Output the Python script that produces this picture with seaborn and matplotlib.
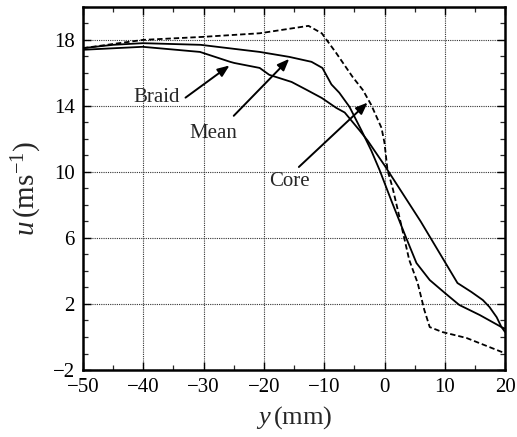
import numpy as np
import pandas as pd
import matplotlib
matplotlib.use("Agg")
import matplotlib.pyplot as plt
from matplotlib.ticker import MultipleLocator
import seaborn as sns

# ---- data ----
mean_y = [-50, -45, -40.1, -30.5, -20.7, -15.8, -12.1, -10.3, -8.8, -7.5, -5.8, -3.8, -2.2, -0.8, 1.2,
          3.6, 5.3, 7.5, 10.0, 12.4, 15.8, 19.4, 20.0]
mean_u = [17.5, 17.7, 17.8, 17.7, 17.27, 16.97, 16.67, 16.3, 15.3, 14.8, 13.94, 12.5, 11.3, 10.1, 8.2,
          6.0, 4.48, 3.45, 2.67, 1.94, 1.33, 0.6, 0.5]

braid_y = [-50, -40.1, -30.6, -25.6, -24.9, -20.7, -19.1, -15.4, -12.9, -10.4, -8.0, -6.6, -4.1, -2.8,
           0.0, 3.0, 6.0, 9.6, 12.1, 14.4, 16.3, 17.4, 18.6, 19.4, 20.0]
braid_u = [17.4, 17.58, 17.27, 16.67, 16.6, 16.3, 15.88, 15.45, 14.97, 14.48, 13.88, 13.6, 12.5, 11.9,
           10.4, 8.7, 7.0, 4.8, 3.27, 2.73, 2.24, 1.82, 1.2, 0.6, 0.3]

core_y = [-50, -40, -30.2, -20.7, -12.6, -10.4, -8.0, -5.3, -3.6, -2.2, -0.5, 0.0, 0.5, 1.3, 2.2,
          4.1, 5.5, 6.6, 7.5, 9.6, 13.6, 19.4, 20.0]
core_u = [17.5, 18.0, 18.18, 18.4, 18.85, 18.4, 17.2, 15.76, 14.97, 14.06, 12.67, 11.76, 10.1, 9.1, 7.7,
          4.67, 3.27, 1.64, 0.6, 0.3, -0.06, -0.9, -0.95]

xticks = [-50, -40, -30, -20, -10, 0, 10, 20]
yticks = [-2, 2, 6, 10, 14, 18]

labels = ["Braid", "Mean", "Core"]
label_pos = [(-37.8, 14.5), (-28.4, 12.3), (-15.8, 9.4)]
arrow_tail = [(-33.0, 14.5), (-25.0, 13.4), (-14.2, 10.3)]
arrow_tip = [(-25.7, 16.45), (-15.8, 16.85), (-2.8, 14.2)]

# ---- build frame ----
df = pd.concat([
    pd.DataFrame({"y": mean_y, "u": mean_u, "profile": "Mean"}),
    pd.DataFrame({"y": braid_y, "u": braid_u, "profile": "Braid"}),
    pd.DataFrame({"y": core_y, "u": core_u, "profile": "Core"}),
])

sns.set_style("ticks")
plt.rcParams["font.family"] = ["Liberation Serif", "DejaVu Serif"]
plt.rcParams["mathtext.fontset"] = "custom"
plt.rcParams["mathtext.it"] = "Liberation Serif:italic"
plt.rcParams["mathtext.rm"] = "Liberation Serif"

fig = plt.figure(figsize=(5.17, 4.37), dpi=100)
ax = fig.add_axes([0.1605, 0.1533, 0.8165, 0.831])

sns.lineplot(data=df, x="y", y="u", hue="profile", style="profile",
             palette={"Mean": "black", "Braid": "black", "Core": "black"},
             dashes={"Mean": "", "Braid": "", "Core": (3, 1.6)},
             linewidth=1.3, sort=False, estimator=None, legend=False, ax=ax)

ax.set_xlim(-50, 20)
ax.set_ylim(-2, 20)
ax.set_xticks(xticks)
ax.set_yticks(yticks)
ax.set_xticklabels([f"{t}".replace("-", "\u2212") for t in xticks])
ax.set_yticklabels([f"{t}".replace("-", "\u2212") for t in yticks])
ax.xaxis.set_minor_locator(MultipleLocator(5))
ax.yaxis.set_minor_locator(MultipleLocator(1))
ax.tick_params(which="major", direction="in", length=6, width=1.0, labelsize=15,
               top=True, right=True, pad=6, colors="black")
ax.tick_params(which="minor", direction="in", length=3.5, width=0.9, top=True, right=True)
ax.grid(True, which="major", linestyle=(0, (1, 1)), linewidth=0.8, color="#333333")
for s in ax.spines.values():
    s.set_linewidth(1.8)
    s.set_color("black")

ax.set_xlabel(r"$y\,$(mm)", fontsize=19, labelpad=5)
ax.set_ylabel(r"$u\,$(ms$^{-1}$)", fontsize=21, labelpad=6)

for lab, pos, tail, tip in zip(labels, label_pos, arrow_tail, arrow_tip):
    ax.text(pos[0], pos[1], lab, fontsize=15, ha="center", va="center")
    ax.annotate("", xy=tip, xytext=tail,
                arrowprops=dict(arrowstyle="-|>,head_length=0.7,head_width=0.28",
                                color="black", lw=1.4, shrinkA=0, shrinkB=0))

fig.savefig("out.png", dpi=100)
